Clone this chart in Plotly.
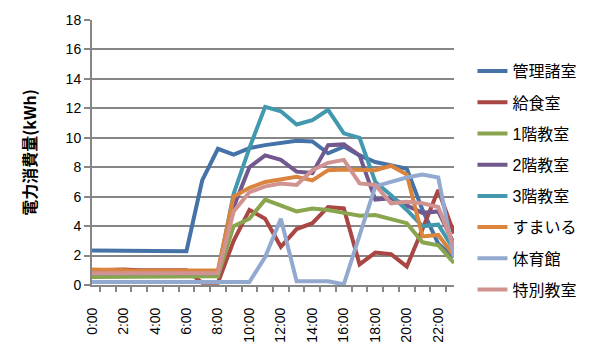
import plotly.graph_objects as go

hours = ["0:00", "1:00", "2:00", "3:00", "4:00", "5:00", "6:00", "7:00",
         "8:00", "9:00", "10:00", "11:00", "12:00", "13:00", "14:00", "15:00",
         "16:00", "17:00", "18:00", "19:00", "20:00", "21:00", "22:00", "23:00"]

kanri = [2.35, 2.35, 2.35, 2.35, 2.35, 2.3, 2.3, 7.1, 9.25, 8.85, 9.3, 9.5,
         9.65, 9.8, 9.75, 8.95, 9.4, 8.8, 8.35, 8.1, 7.9, 5.1, 2.8, 1.9]
kyushoku = [1.0, 1.05, 1.05, 1.0, 1.0, 1.0, 1.0, 0.15, 0.15, 3.0, 5.1, 4.5,
            2.6, 3.8, 4.2, 5.3, 5.2, 1.4, 2.2, 2.1, 1.25, 3.8, 6.45, 3.5]
kai1 = [0.55, 0.55, 0.55, 0.55, 0.55, 0.55, 0.55, 0.55, 0.6, 4.0, 4.5, 5.8,
        5.4, 5.0, 5.2, 5.1, 4.9, 4.7, 4.75, 4.5, 4.2, 2.9, 2.7, 1.5]
kai2 = [0.85, 0.85, 0.85, 0.85, 0.85, 0.85, 0.85, 0.85, 0.85, 5.3, 8.0, 8.8,
        8.5, 7.7, 7.6, 9.5, 9.55, 8.8, 5.8, 5.9, 5.4, 4.9, 5.0, 2.8]
kai3 = [0.8, 0.8, 0.8, 0.8, 0.8, 0.8, 0.8, 0.8, 0.8, 6.2, 9.3, 12.1,
        11.8, 10.9, 11.2, 11.9, 10.3, 10.0, 7.0, 6.1, 5.1, 4.0, 4.1, 2.4]
sumairu = [1.05, 1.05, 1.0, 0.95, 0.95, 0.95, 0.95, 0.95, 1.0, 6.0, 6.6, 7.0,
           7.2, 7.35, 7.1, 7.8, 7.85, 7.8, 7.8, 8.1, 7.5, 3.3, 3.4, 2.0]
taiikukan = [0.2, 0.2, 0.2, 0.2, 0.2, 0.2, 0.2, 0.2, 0.2, 0.2, 0.2, 1.9,
             4.5, 0.25, 0.25, 0.25, 0.05, 3.3, 6.7, 7.0, 7.3, 7.5, 7.3, 1.9]
tokubetsu = [0.8, 0.8, 0.8, 0.8, 0.8, 0.8, 0.8, 0.8, 0.8, 5.0, 6.3, 6.7,
             6.9, 6.8, 7.8, 8.3, 8.5, 6.9, 6.8, 5.55, 5.65, 5.55, 5.3, 2.6]

series_names = ["管理諸室", "給食室", "1階教室", "2階教室", "3階教室",
                "すまいる", "体育館", "特別教室"]
series_values = [kanri, kyushoku, kai1, kai2, kai3, sumairu, taiikukan, tokubetsu]
colors = ["#4572A7", "#AA4643", "#89A54E", "#71588F", "#4198AF",
          "#DB843D", "#93A9CF", "#D19392"]

tick_labels = [h if i % 2 == 0 else "" for i, h in enumerate(hours)]

FONT = "Liberation Sans, Arial, Noto Sans CJK JP, sans-serif"

fig = go.Figure()
for name, vals, col in zip(series_names, series_values, colors):
    fig.add_trace(go.Scatter(
        x=hours, y=vals, mode="lines", name=name, legendgroup=name,
        line=dict(color=col, width=4),
    ))

fig.update_layout(
    width=601, height=361,
    margin=dict(l=84, r=155, t=12, b=84),
    paper_bgcolor="white", plot_bgcolor="white",
    font=dict(family=FONT, color="black", size=14),
    showlegend=True,
    legend=dict(
        x=1.051, y=0.871, xanchor="left", yanchor="top",
        font=dict(size=16, family=FONT),
        traceorder="grouped", tracegroupgap=7.4,
        bgcolor="rgba(0,0,0,0)",
    ),
    xaxis=dict(
        type="category", categoryorder="array", categoryarray=hours,
        tickmode="array", tickvals=hours, ticktext=tick_labels,
        tickangle=-90, tickson="boundaries",
        ticks="outside", ticklen=5, tickwidth=2, tickcolor="#868686",
        showline=True, linecolor="#868686", linewidth=2,
        showgrid=False, zeroline=False, automargin=False,
        tickfont=dict(size=14, family=FONT, color="black"),
        ticklabelstandoff=15,
    ),
    yaxis=dict(
        range=[0, 18], tickmode="linear", tick0=0, dtick=2,
        ticks="outside", ticklen=6, tickwidth=2, tickcolor="#868686",
        showline=True, linecolor="#868686", linewidth=2,
        showgrid=True, gridcolor="#868686", gridwidth=2,
        zeroline=False, automargin=False,
        tickfont=dict(size=14, family=FONT, color="black"),
        title=dict(text="<b>電力消費量(kWh)</b>",
                   font=dict(size=16, family="Noto Sans CJK JP", color="black"),
                   standoff=25),
    ),
)

fig.write_html("out.html")
